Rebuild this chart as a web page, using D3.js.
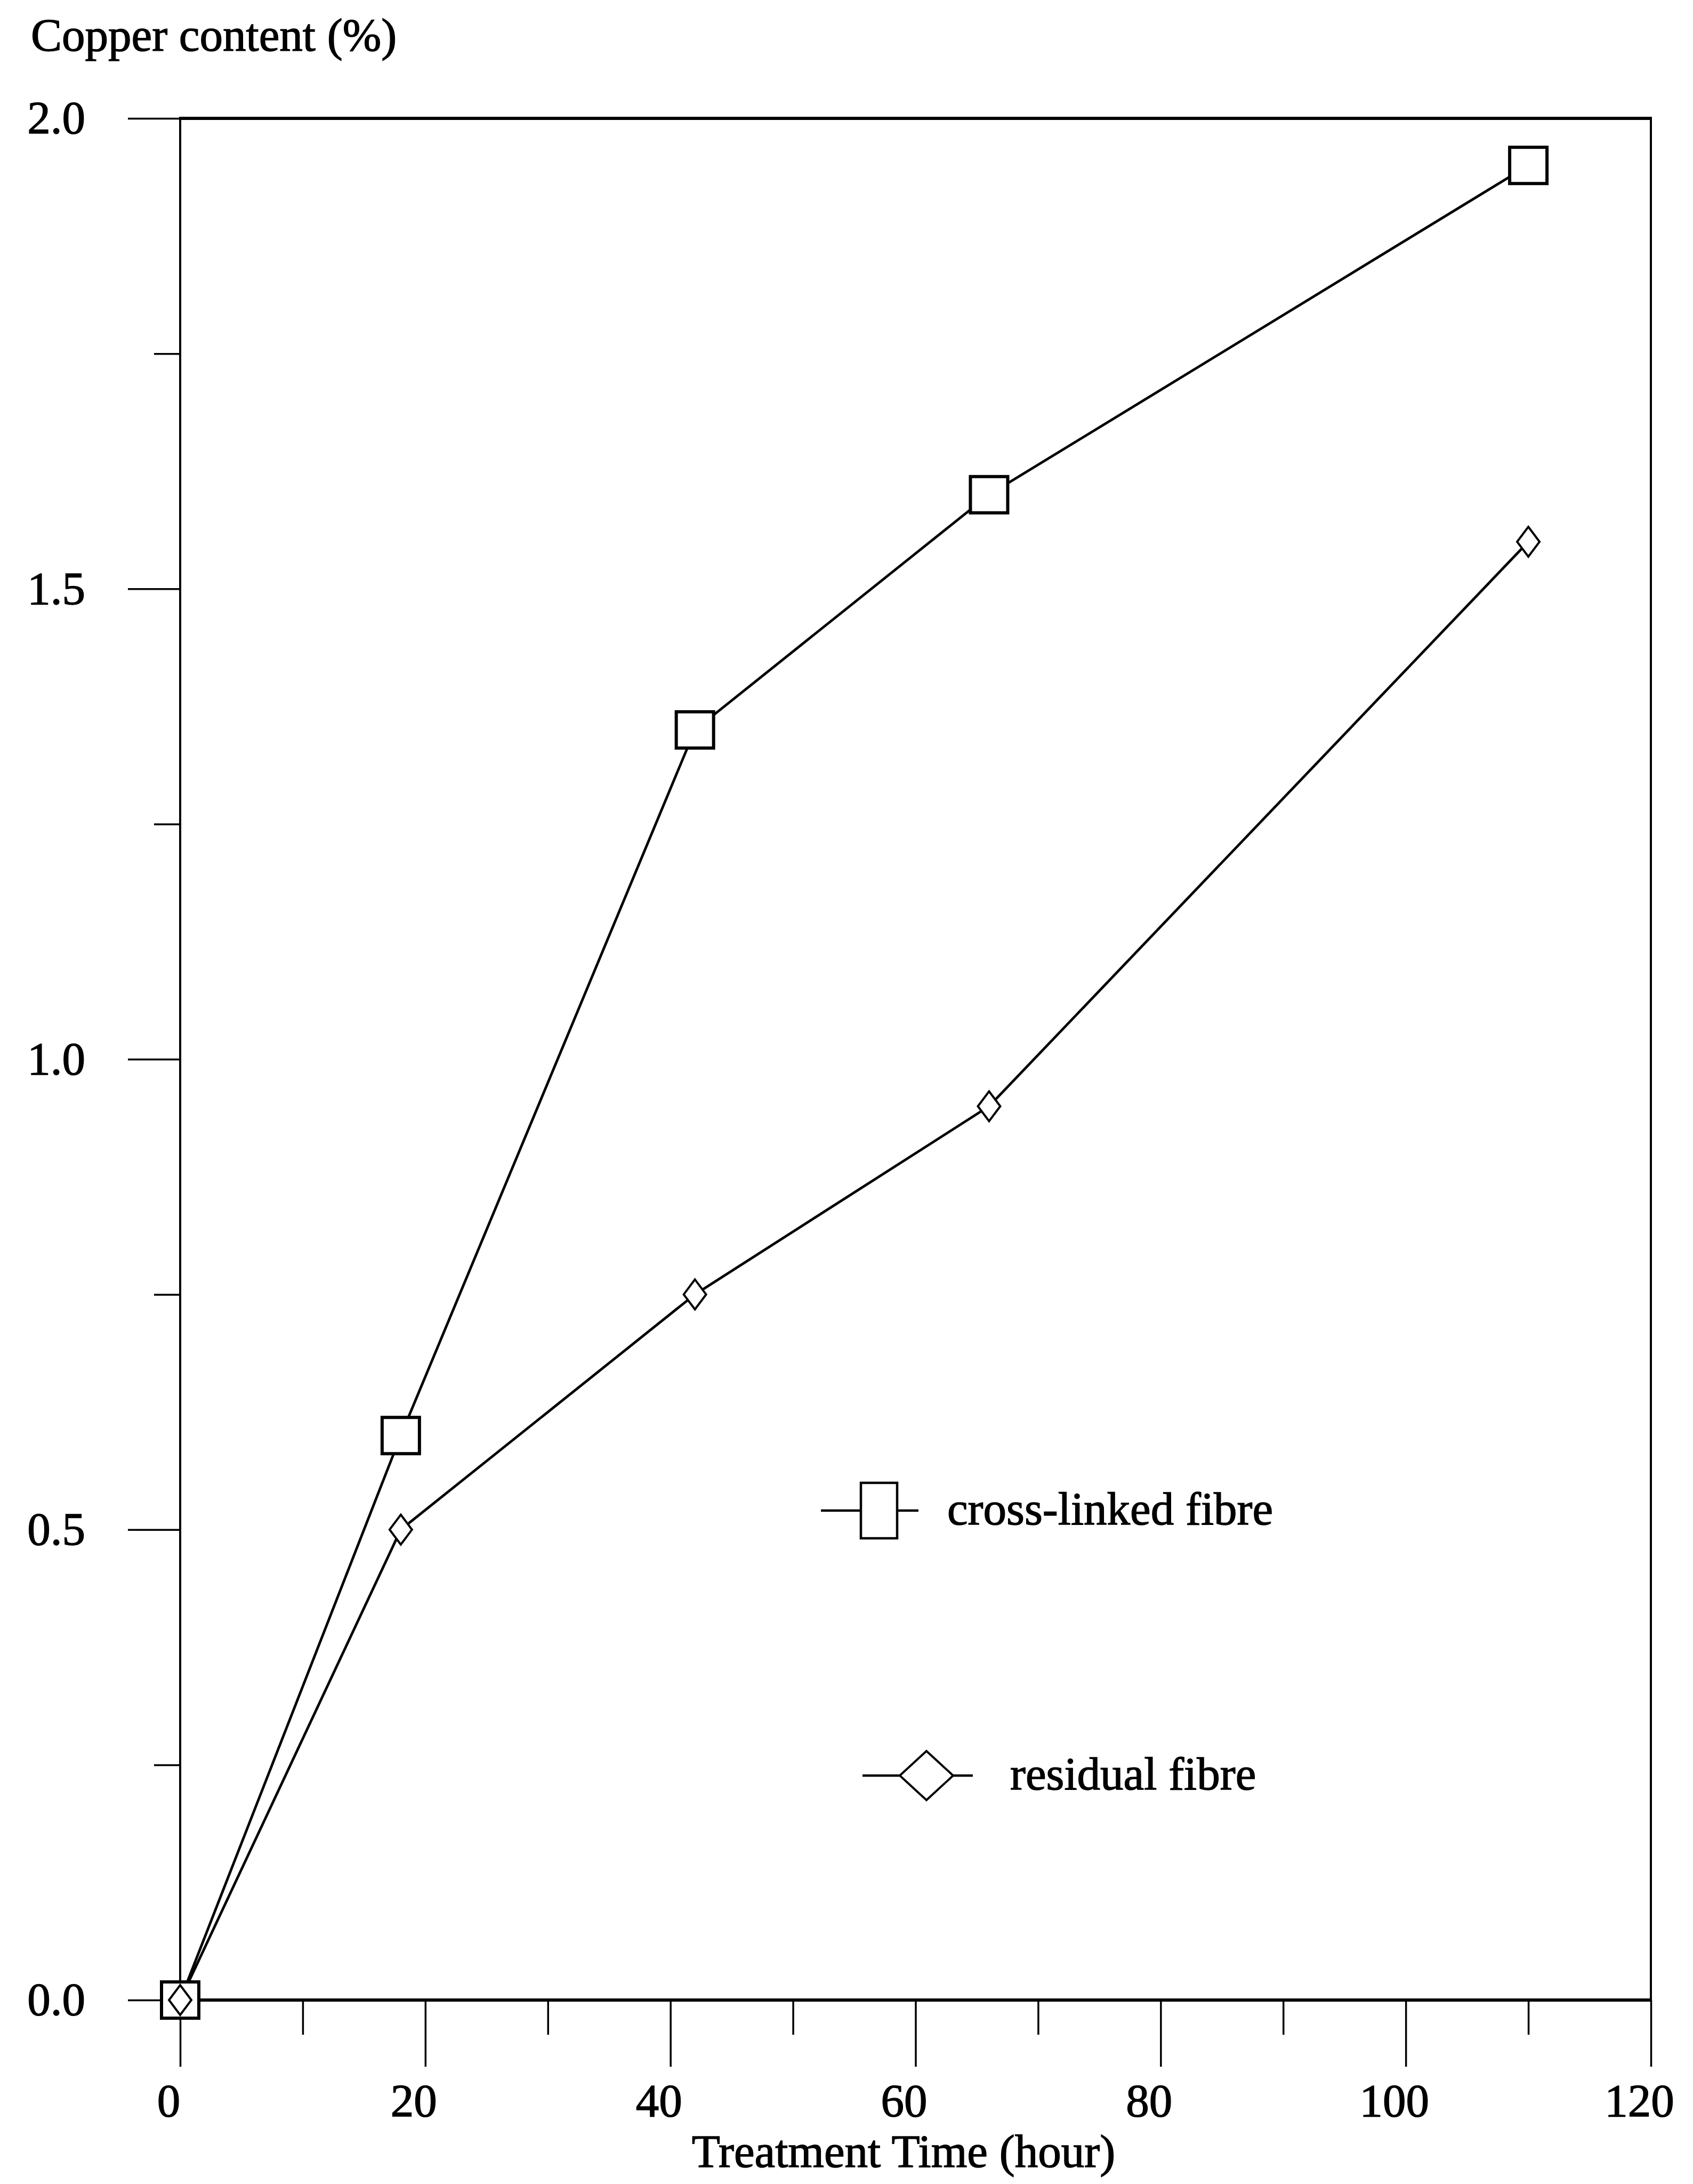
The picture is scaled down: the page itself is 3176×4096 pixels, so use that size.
<!DOCTYPE html>
<html>
<head>
<meta charset="utf-8">
<script src="https://cdn.jsdelivr.net/npm/d3@7"></script>
<style>
  html, body { margin: 0; padding: 0; background: #fff; }
  svg { display: block; }
  text { font-family: "Liberation Serif", "Times New Roman", serif; fill: #000; }
</style>
</head>
<body>
<svg id="chart" width="3176" height="4096"></svg>
<script>
// Treatment time (hours) and copper uptake (%) for the two fibre types
const hours = [0, 18, 42, 66, 110];
const crossLinked = [0.0, 0.60, 1.35, 1.60, 1.95];
const residual = [0.0, 0.50, 0.75, 0.95, 1.55];

const xMajorTicks = [0, 20, 40, 60, 80, 100, 120];
const xMinorTicks = [10, 30, 50, 70, 90, 110];
const yMajorTicks = [0.0, 0.5, 1.0, 1.5, 2.0];
const yMinorTicks = [0.25, 0.75, 1.25, 1.75];

const seriesNames = ["cross-linked fibre", "residual fibre"];
const yTitle = "Copper content (%)";
const xTitle = "Treatment Time (hour)";

const svg = d3.select("#chart");
const FS = 87;
const TEXT_STROKE = 1.4;

const x = d3.scaleLinear().domain([0, 120]).range([338, 3097]);
const y = d3.scaleLinear().domain([0, 2]).range([3751, 222]);

// frame: heavier horizontal rules, lighter verticals
const frame = svg.append("g").attr("stroke", "#000").attr("fill", "none");
frame.append("line").attr("x1", x(0) - 2).attr("x2", x(120) + 2)
  .attr("y1", y(0)).attr("y2", y(0)).attr("stroke-width", 6);
frame.append("line").attr("x1", x(0) - 2).attr("x2", x(120) + 2)
  .attr("y1", y(2)).attr("y2", y(2)).attr("stroke-width", 6);
frame.append("line").attr("x1", x(0)).attr("x2", x(0))
  .attr("y1", y(2)).attr("y2", y(0)).attr("stroke-width", 4);
frame.append("line").attr("x1", x(120)).attr("x2", x(120))
  .attr("y1", y(2)).attr("y2", y(0)).attr("stroke-width", 4);

// bottom axis: long major ticks with labels, short minor ticks
const xMajor = svg.append("g").attr("transform", `translate(0,${y(0)})`)
  .call(d3.axisBottom(x).tickValues(xMajorTicks).tickSize(125).tickSizeOuter(0)
    .tickFormat(d3.format("d")));
xMajor.select(".domain").remove();
xMajor.selectAll(".tick line").attr("stroke", "#000").attr("stroke-width", 3.5);
xMajor.selectAll(".tick text")
  .attr("font-size", FS).attr("font-family", "Liberation Serif")
  .attr("stroke", "#000").attr("stroke-width", TEXT_STROKE)
  .attr("dy", 0).attr("y", 218).attr("x", -22);

const xMinor = svg.append("g").attr("transform", `translate(0,${y(0)})`)
  .call(d3.axisBottom(x).tickValues(xMinorTicks).tickSize(65).tickSizeOuter(0)
    .tickFormat(""));
xMinor.select(".domain").remove();
xMinor.selectAll(".tick line").attr("stroke", "#000").attr("stroke-width", 3.5);

// left axis
const yMajor = svg.append("g").attr("transform", `translate(${x(0)},0)`)
  .call(d3.axisLeft(y).tickValues(yMajorTicks).tickSize(98).tickSizeOuter(0)
    .tickFormat(d3.format(".1f")));
yMajor.select(".domain").remove();
yMajor.selectAll(".tick line").attr("stroke", "#000").attr("stroke-width", 3.5);
yMajor.selectAll(".tick text")
  .attr("font-size", FS).attr("font-family", "Liberation Serif")
  .attr("stroke", "#000").attr("stroke-width", TEXT_STROKE)
  .attr("x", -178).attr("dy", "0.32em");

const yMinor = svg.append("g").attr("transform", `translate(${x(0)},0)`)
  .call(d3.axisLeft(y).tickValues(yMinorTicks).tickSize(49).tickSizeOuter(0)
    .tickFormat(""));
yMinor.select(".domain").remove();
yMinor.selectAll(".tick line").attr("stroke", "#000").attr("stroke-width", 3.5);

// axis titles
svg.append("text").attr("x", 58).attr("y", 95)
  .attr("font-size", FS).attr("stroke", "#000").attr("stroke-width", TEXT_STROKE)
  .text(yTitle);
svg.append("text").attr("x", 1695).attr("y", 4064).attr("text-anchor", "middle")
  .attr("font-size", FS).attr("stroke", "#000").attr("stroke-width", TEXT_STROKE)
  .text(xTitle);

// series
const line = d3.line().x(d => x(d[0])).y(d => y(d[1]));
const crossPts = hours.map((h, i) => [h, crossLinked[i]]);
const resPts = hours.map((h, i) => [h, residual[i]]);

svg.append("path").datum(resPts).attr("d", line)
  .attr("fill", "none").attr("stroke", "#000").attr("stroke-width", 4.8);
svg.append("path").datum(crossPts).attr("d", line)
  .attr("fill", "none").attr("stroke", "#000").attr("stroke-width", 4.8);

const SQ_W = 70, SQ_H = 68;
svg.append("g").selectAll("rect").data(crossPts).join("rect")
  .attr("x", d => x(d[0]) - SQ_W / 2).attr("y", d => y(d[1]) - SQ_H / 2)
  .attr("width", SQ_W).attr("height", SQ_H)
  .attr("fill", "#fff").attr("stroke", "#000").attr("stroke-width", 6);

const DM_W = 42, DM_H = 56;
const diamond = (cx, cy, w, h) =>
  `M${cx},${cy - h / 2}L${cx + w / 2},${cy}L${cx},${cy + h / 2}L${cx - w / 2},${cy}Z`;
svg.append("g").selectAll("path").data(resPts).join("path")
  .attr("d", d => diamond(x(d[0]), y(d[1]), DM_W, DM_H))
  .attr("fill", "#fff").attr("stroke", "#000").attr("stroke-width", 4);

// legend
const lg = svg.append("g");
lg.append("line").attr("x1", 1540).attr("x2", 1723).attr("y1", 2833).attr("y2", 2833)
  .attr("stroke", "#000").attr("stroke-width", 4.5);
lg.append("rect").attr("x", 1649 - 34).attr("y", 2833 - 52).attr("width", 68).attr("height", 104)
  .attr("fill", "#fff").attr("stroke", "#000").attr("stroke-width", 4.5);
lg.append("text").attr("x", 1777).attr("y", 2859).attr("font-size", FS)
  .attr("stroke", "#000").attr("stroke-width", TEXT_STROKE).text(seriesNames[0]);

lg.append("line").attr("x1", 1618).attr("x2", 1825).attr("y1", 3330).attr("y2", 3330)
  .attr("stroke", "#000").attr("stroke-width", 4.5);
lg.append("path").attr("d", diamond(1738, 3330, 100, 92))
  .attr("fill", "#fff").attr("stroke", "#000").attr("stroke-width", 4);
lg.append("text").attr("x", 1895).attr("y", 3356).attr("font-size", FS)
  .attr("stroke", "#000").attr("stroke-width", TEXT_STROKE).text(seriesNames[1]);
</script>
</body>
</html>
